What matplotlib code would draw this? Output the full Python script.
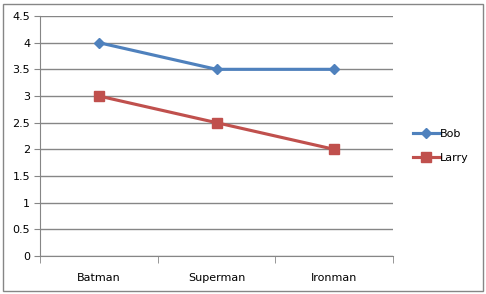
import matplotlib.pyplot as plt
from matplotlib.patches import Rectangle

heroes = ["Batman", "Superman", "Ironman"]
bob = [4, 3.5, 3.5]
larry = [3, 2.5, 2]
yticks = [0, 0.5, 1, 1.5, 2, 2.5, 3, 3.5, 4, 4.5]

W, H = 486, 294
fig = plt.figure(figsize=(W / 100, H / 100), dpi=100)
ax = fig.add_axes([40 / W, 1 - 256 / H, (393 - 40) / W, (256 - 16) / H])

grid = "#868686"
x = range(len(heroes))
ax.plot(x, bob, color="#4F81BD", lw=2.25, marker="D", ms=5.5, label="Bob")
ax.plot(x, larry, color="#C0504D", lw=2.25, marker="s", ms=6.5, label="Larry")

ax.set_xlim(-0.5, len(heroes) - 0.5)
ax.set_ylim(0, 4.5)
ax.set_yticks(yticks)
ax.set_yticklabels([f"{v:g}" for v in yticks])
ax.set_xticks(x)
ax.set_xticklabels(heroes)
ax.set_xticks([i - 0.5 for i in range(len(heroes) + 1)], minor=True)
ax.yaxis.grid(True, color=grid, lw=1)
ax.set_axisbelow(True)
for s in ["top", "right"]:
    ax.spines[s].set_visible(False)
for s in ["left", "bottom"]:
    ax.spines[s].set_color(grid)
ax.tick_params(axis="x", which="major", length=0, pad=12, labelsize=8)
ax.tick_params(axis="x", which="minor", length=5, direction="out", color=grid)
ax.tick_params(axis="y", length=4, direction="out", color=grid, labelsize=8, pad=3)

ax.legend(loc="center left", bbox_to_anchor=(403 / W, 1 - 146 / H),
          bbox_transform=fig.transFigure, frameon=False, fontsize=8,
          handlelength=2.4, handletextpad=0.0, labelspacing=1.2)

fig.patches.append(Rectangle((3 / W, 3 / H), 480 / W, 287 / H, transform=fig.transFigure,
                             fill=False, edgecolor=grid, lw=1))
fig.savefig("out.png", dpi=100)
